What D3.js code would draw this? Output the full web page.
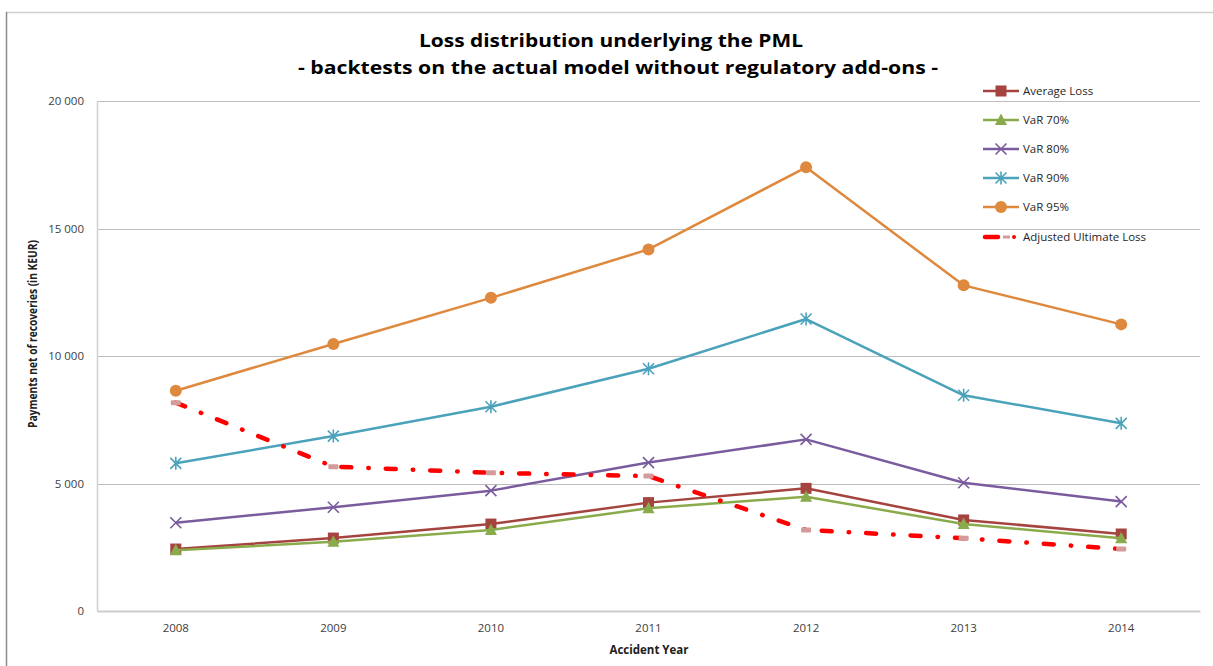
<!DOCTYPE html>
<html>
<head>
<meta charset="utf-8">
<script src="https://cdn.jsdelivr.net/npm/d3@7"></script>
<style>
  html, body { margin: 0; padding: 0; background: #fff; }
  svg { display: block; font-family: "Open Sans", "Noto Sans", sans-serif; }
</style>
</head>
<body>
<svg id="chart" width="1213" height="666"></svg>
<script>
// ---- data ----
const years = ["2008", "2009", "2010", "2011", "2012", "2013", "2014"];
const averageLoss = [2430, 2860, 3410, 4250, 4810, 3570, 3020];
const var70 = [2380, 2720, 3180, 4030, 4480, 3410, 2850];
const var80 = [3460, 4070, 4720, 5820, 6730, 5030, 4290];
const var90 = [5790, 6860, 8010, 9500, 11450, 8460, 7360];
const var95 = [8640, 10470, 12280, 14180, 17400, 12770, 11240];
const adjustedUltimateLoss = [8170, 5660, 5420, 5290, 3180, 2850, 2430];
const yTicks = [0, 5000, 10000, 15000, 20000];
const seriesNames = ["Average Loss", "VaR 70%", "VaR 80%", "VaR 90%", "VaR 95%", "Adjusted Ultimate Loss"];
const titleLines = ["Loss distribution underlying the PML", "- backtests on the actual model without regulatory add-ons -"];
const xTitle = "Accident Year";
const yTitle = "Payments net of recoveries (in KEUR)";

const series = [
  { name: seriesNames[0], values: averageLoss, color: "#A5443F", marker: "square" },
  { name: seriesNames[1], values: var70, color: "#8AAB4C", marker: "triangle" },
  { name: seriesNames[2], values: var80, color: "#7A5C9E", marker: "x" },
  { name: seriesNames[3], values: var90, color: "#4AA2BB", marker: "star" },
  { name: seriesNames[4], values: var95, color: "#DE893D", marker: "circle" },
  { name: seriesNames[5], values: adjustedUltimateLoss, color: "#FF0000", marker: "dash" }
];

// ---- layout ----
const svg = d3.select("#chart");
const plot = { left: 97, right: 1200, top: 101, bottom: 611 };

const x = d3.scaleBand().domain(years).range([plot.left, plot.right]);
const xc = d => x(d) + x.bandwidth() / 2;
const y = d3.scaleLinear().domain([0, 20000]).range([plot.bottom, plot.top]);
const fmt = v => d3.format(",")(v).replace(/,/g, " ");

// outer frame
svg.append("line").attr("x1", 6).attr("x2", 1213).attr("y1", 12.5).attr("y2", 12.5)
  .attr("stroke", "#d0d0d0").attr("stroke-width", 1.5);
svg.append("line").attr("x1", 6.5).attr("x2", 6.5).attr("y1", 12).attr("y2", 666)
  .attr("stroke", "#8a8a8a").attr("stroke-width", 1.5);

// gridlines
svg.append("g").selectAll("line").data(yTicks.filter(t => t > 0)).join("line")
  .attr("x1", plot.left).attr("x2", plot.right)
  .attr("y1", d => Math.round(y(d)) + 0.5).attr("y2", d => Math.round(y(d)) + 0.5)
  .attr("stroke", "#bdbdbd").attr("stroke-width", 1);

// y axis
const yAxis = svg.append("g").attr("transform", `translate(${plot.left},0)`)
  .call(d3.axisLeft(y).tickValues(yTicks).tickFormat(fmt).tickSize(0).tickPadding(13));
yAxis.select(".domain").attr("stroke", "#d0d0d0").attr("stroke-width", 1.5);
yAxis.selectAll("text").attr("font-size", 11.5).attr("fill", "#404040")
  .attr("font-family", "'Open Sans', sans-serif");

// x axis
const xAxis = svg.append("g").attr("transform", `translate(0,${plot.bottom})`)
  .call(d3.axisBottom(x).tickSize(0).tickPadding(13));
xAxis.select(".domain").attr("stroke", "#cccccc").attr("stroke-width", 2);
xAxis.selectAll("text").attr("font-size", 11.5).attr("fill", "#404040")
  .attr("font-family", "'Open Sans', sans-serif");

// axis titles
svg.append("text").attr("x", 649).attr("y", 654).attr("text-anchor", "middle")
  .attr("font-size", 11.5).attr("font-weight", "bold").attr("fill", "#202020").text(xTitle);
svg.append("text").attr("transform", "translate(37,334) rotate(-90)").attr("text-anchor", "middle")
  .attr("font-size", 11.5).attr("font-weight", "bold").attr("fill", "#202020")
  .attr("textLength", 188).attr("lengthAdjust", "spacingAndGlyphs").text(yTitle);

// title
svg.append("text").attr("x", 611).attr("y", 47).attr("text-anchor", "middle")
  .attr("font-size", 18.5).attr("font-weight", "bold").attr("fill", "#000")
  .attr("textLength", 384).attr("lengthAdjust", "spacingAndGlyphs").text(titleLines[0]);
svg.append("text").attr("x", 618).attr("y", 74).attr("text-anchor", "middle")
  .attr("font-size", 18.5).attr("font-weight", "bold").attr("fill", "#000")
  .attr("textLength", 640).attr("lengthAdjust", "spacingAndGlyphs").text(titleLines[1]);

// ---- markers ----
function drawMarker(g, type, cx, cy, color) {
  if (type === "square") {
    g.append("rect").attr("x", cx - 5.5).attr("y", cy - 5.5).attr("width", 11).attr("height", 11)
      .attr("fill", color);
  } else if (type === "triangle") {
    g.append("path").attr("d", `M${cx},${cy - 6.5}L${cx + 6},${cy + 5}L${cx - 6},${cy + 5}Z`)
      .attr("fill", color);
  } else if (type === "x") {
    g.append("path").attr("d", `M${cx - 5.5},${cy - 5.5}L${cx + 5.5},${cy + 5.5}M${cx - 5.5},${cy + 5.5}L${cx + 5.5},${cy - 5.5}`)
      .attr("stroke", color).attr("stroke-width", 1.6).attr("fill", "none");
  } else if (type === "star") {
    g.append("path").attr("d", `M${cx - 5.5},${cy - 5.5}L${cx + 5.5},${cy + 5.5}M${cx - 5.5},${cy + 5.5}L${cx + 5.5},${cy - 5.5}M${cx},${cy - 6.5}L${cx},${cy + 6.5}`)
      .attr("stroke", color).attr("stroke-width", 1.6).attr("fill", "none");
  } else if (type === "circle") {
    g.append("circle").attr("cx", cx).attr("cy", cy).attr("r", 6).attr("fill", color);
  } else if (type === "dash") {
    g.append("rect").attr("x", cx - 5).attr("y", cy - 2.5).attr("width", 10).attr("height", 5)
      .attr("rx", 1).attr("fill", "#D59A9A");
  }
}

const line = d3.line().x((d, i) => xc(years[i])).y(d => y(d));

series.forEach(s => {
  const g = svg.append("g");
  const p = g.append("path").attr("d", line(s.values)).attr("fill", "none")
    .attr("stroke", s.color);
  if (s.marker === "dash") {
    p.attr("stroke-width", 4.5).attr("stroke-dasharray", "10,17,0.5,17").attr("stroke-linecap", "round");
  } else {
    p.attr("stroke-width", 2.5).attr("stroke-linejoin", "round");
  }
  s.values.forEach((v, i) => drawMarker(g, s.marker, xc(years[i]), y(v), s.color));
});

// ---- legend ----
const legendY = [91, 120, 149, 178, 207, 237];
const lg = svg.append("g");
series.forEach((s, i) => {
  const ly = legendY[i];
  const g = lg.append("g");
  if (s.marker === "dash") {
    g.append("line").attr("x1", 985).attr("x2", 998).attr("y1", ly).attr("y2", ly)
      .attr("stroke", s.color).attr("stroke-width", 4.5).attr("stroke-linecap", "round");
    g.append("rect").attr("x", 1003).attr("y", ly - 1.5).attr("width", 7).attr("height", 3).attr("fill", "#D59A9A");
    g.append("circle").attr("cx", 1014).attr("cy", ly).attr("r", 2).attr("fill", s.color);
  } else {
    g.append("line").attr("x1", 983).attr("x2", 1019).attr("y1", ly).attr("y2", ly)
      .attr("stroke", s.color).attr("stroke-width", 2.5);
    drawMarker(g, s.marker, 1001, ly, s.color);
  }
  g.append("text").attr("x", 1023).attr("y", ly).attr("dy", "0.35em")
    .attr("font-size", 11.5).attr("fill", "#262626").text(s.name);
});
</script>
</body>
</html>
